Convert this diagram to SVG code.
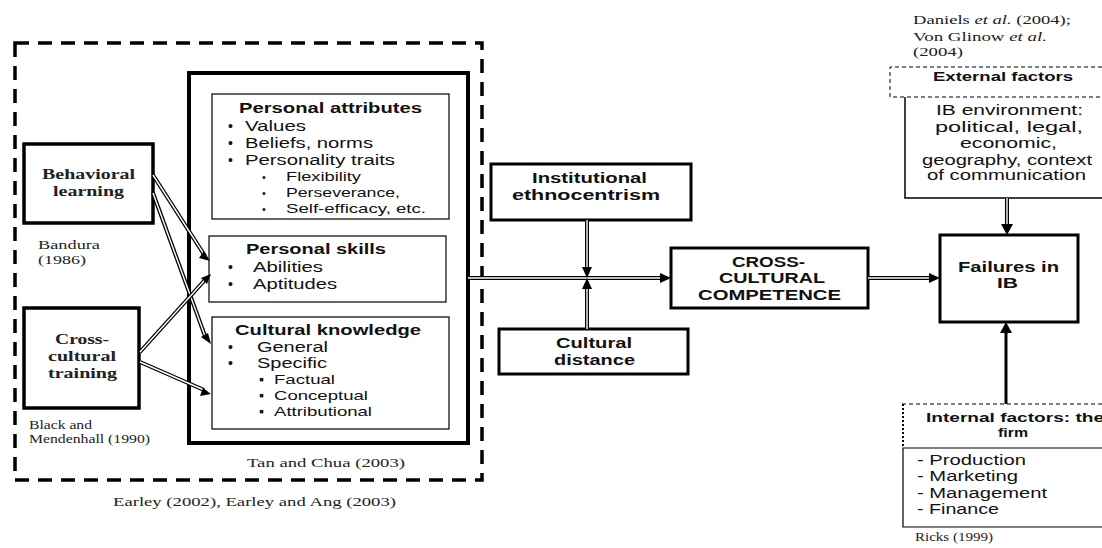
<svg xmlns="http://www.w3.org/2000/svg" width="1102" height="548" viewBox="0 0 1102 548">
<defs>
<style>
.sans{font-family:"Liberation Sans",Arial,sans-serif;fill:#111}
.serif{font-family:"Liberation Serif","Times New Roman",serif;fill:#222}
.b{font-weight:bold}
.box{fill:#fff;stroke:#000}
.dbl{stroke:#000;stroke-width:4;fill:none}
.dblw{stroke:#fff;stroke-width:1.4;fill:none}
</style>
</defs>
<rect width="1102" height="548" fill="#fff"/>

<g id="outer-dashed">
<rect x="15" y="43" width="467" height="437" fill="none" stroke="#000" stroke-width="3.5" stroke-dasharray="14,9"/>
</g>

<g id="inner-box">
<rect x="189" y="73" width="279" height="370" fill="none" stroke="#000" stroke-width="4"/>
</g>

<g id="personal-attributes">
<rect class="box" x="212" y="94" width="237" height="125" stroke-width="1.2"/>
<text class="sans b" x="239" y="113" font-size="14" textLength="183" lengthAdjust="spacingAndGlyphs">Personal attributes</text>
<g class="sans" font-size="14">
<text x="228" y="131">•</text><text x="245" y="131" textLength="61" lengthAdjust="spacingAndGlyphs">Values</text>
<text x="228" y="148">•</text><text x="245" y="148" textLength="128" lengthAdjust="spacingAndGlyphs">Beliefs, norms</text>
<text x="228" y="165">•</text><text x="245" y="165" textLength="150" lengthAdjust="spacingAndGlyphs">Personality traits</text>
</g>
<g class="sans" font-size="13">
<text x="262" y="181" font-size="11">•</text><text x="286" y="181" textLength="75" lengthAdjust="spacingAndGlyphs">Flexibility</text>
<text x="262" y="197" font-size="11">•</text><text x="286" y="197" textLength="114" lengthAdjust="spacingAndGlyphs">Perseverance,</text>
<text x="262" y="213" font-size="11">•</text><text x="286" y="213" textLength="140" lengthAdjust="spacingAndGlyphs">Self-efficacy, etc.</text>
</g>
</g>

<g id="personal-skills">
<rect class="box" x="209" y="236" width="237" height="66" stroke-width="1.2"/>
<text class="sans b" x="246" y="254" font-size="14" textLength="140" lengthAdjust="spacingAndGlyphs">Personal skills</text>
<g class="sans" font-size="14">
<text x="228" y="272">•</text><text x="253" y="272" textLength="70" lengthAdjust="spacingAndGlyphs">Abilities</text>
<text x="228" y="289">•</text><text x="253" y="289" textLength="84" lengthAdjust="spacingAndGlyphs">Aptitudes</text>
</g>
</g>

<g id="cultural-knowledge">
<rect class="box" x="212" y="317" width="237" height="112" stroke-width="1.2"/>
<text class="sans b" x="235" y="335" font-size="14" textLength="186" lengthAdjust="spacingAndGlyphs">Cultural knowledge</text>
<g class="sans" font-size="14">
<text x="228" y="352">•</text><text x="257" y="352" textLength="71" lengthAdjust="spacingAndGlyphs">General</text>
<text x="228" y="368">•</text><text x="257" y="368" textLength="70" lengthAdjust="spacingAndGlyphs">Specific</text>
</g>
<g class="sans" font-size="13">
<text x="259" y="384" font-size="14">▪</text><text x="274" y="384" textLength="61" lengthAdjust="spacingAndGlyphs">Factual</text>
<text x="259" y="400" font-size="14">▪</text><text x="274" y="400" textLength="94" lengthAdjust="spacingAndGlyphs">Conceptual</text>
<text x="259" y="416" font-size="14">▪</text><text x="274" y="416" textLength="98" lengthAdjust="spacingAndGlyphs">Attributional</text>
</g>
</g>

<g id="behavioral-learning">
<rect class="box" x="24" y="144" width="129" height="79" stroke-width="3.5"/>
<text class="serif b" x="42" y="179" font-size="14" textLength="93" lengthAdjust="spacingAndGlyphs">Behavioral</text>
<text class="serif b" x="53" y="196" font-size="14" textLength="71" lengthAdjust="spacingAndGlyphs">learning</text>
</g>
<text class="serif" x="38" y="249" font-size="13" textLength="62" lengthAdjust="spacingAndGlyphs">Bandura</text>
<text class="serif" x="38" y="264" font-size="13" textLength="48" lengthAdjust="spacingAndGlyphs">(1986)</text>

<g id="cross-cultural-training">
<rect class="box" x="24" y="308" width="115" height="100" stroke-width="3.5"/>
<text class="serif b" x="55" y="344" font-size="14" textLength="54" lengthAdjust="spacingAndGlyphs">Cross-</text>
<text class="serif b" x="48" y="361" font-size="14" textLength="68" lengthAdjust="spacingAndGlyphs">cultural</text>
<text class="serif b" x="48" y="378" font-size="14" textLength="69" lengthAdjust="spacingAndGlyphs">training</text>
</g>
<text class="serif" x="29" y="429" font-size="12" textLength="63" lengthAdjust="spacingAndGlyphs">Black and</text>
<text class="serif" x="29" y="443" font-size="12" textLength="121" lengthAdjust="spacingAndGlyphs">Mendenhall (1990)</text>

<text class="serif" x="247" y="467" font-size="13" textLength="158" lengthAdjust="spacingAndGlyphs">Tan and Chua (2003)</text>
<text class="serif" x="113" y="506" font-size="13" textLength="283" lengthAdjust="spacingAndGlyphs">Earley (2002), Earley and Ang (2003)</text>

<g id="institutional-ethnocentrism">
<rect class="box" x="491" y="164" width="200" height="56" stroke-width="3"/>
<text class="sans b" x="532" y="183" font-size="14" textLength="115" lengthAdjust="spacingAndGlyphs">Institutional</text>
<text class="sans b" x="512" y="200" font-size="14" textLength="148" lengthAdjust="spacingAndGlyphs">ethnocentrism</text>
</g>

<g id="cultural-distance">
<rect class="box" x="499" y="329" width="189" height="45" stroke-width="3"/>
<text class="sans b" x="556" y="348" font-size="14" textLength="76" lengthAdjust="spacingAndGlyphs">Cultural</text>
<text class="sans b" x="554" y="365" font-size="14" textLength="81" lengthAdjust="spacingAndGlyphs">distance</text>
</g>

<g id="cross-cultural-competence">
<rect class="box" x="671" y="248" width="197" height="60" stroke-width="3"/>
<text class="sans b" x="732" y="267" font-size="14.5" textLength="73" lengthAdjust="spacingAndGlyphs">CROSS-</text>
<text class="sans b" x="719" y="283" font-size="14.5" textLength="106" lengthAdjust="spacingAndGlyphs">CULTURAL</text>
<text class="sans b" x="698" y="300" font-size="14.5" textLength="143" lengthAdjust="spacingAndGlyphs">COMPETENCE</text>
</g>

<g id="failures-in-ib">
<rect class="box" x="940" y="235" width="138" height="87" stroke-width="3"/>
<text class="sans b" x="958" y="272" font-size="14" textLength="101" lengthAdjust="spacingAndGlyphs">Failures in</text>
<text class="sans b" x="997" y="288" font-size="14" textLength="21" lengthAdjust="spacingAndGlyphs">IB</text>
</g>

<text class="serif" x="913" y="24" font-size="12" textLength="158" lengthAdjust="spacingAndGlyphs">Daniels <tspan font-style="italic">et al.</tspan> (2004);</text>
<text class="serif" x="913" y="41" font-size="12" textLength="134" lengthAdjust="spacingAndGlyphs">Von Glinow <tspan font-style="italic">et al.</tspan></text>
<text class="serif" x="913" y="56" font-size="12" textLength="50" lengthAdjust="spacingAndGlyphs">(2004)</text>

<g id="external-factors">
<path d="M1102,67 L890,67 L890,97 L1102,97" fill="#fff" stroke="#000" stroke-width="1" stroke-dasharray="4,3"/>
<text class="sans b" x="933" y="81" font-size="13" textLength="140" lengthAdjust="spacingAndGlyphs">External factors</text>
<path d="M1102,198 L905,198 L905,97" fill="none" stroke="#000" stroke-width="1.5"/>
<g class="sans" font-size="14">
<text x="936" y="115" textLength="147" lengthAdjust="spacingAndGlyphs">IB environment:</text>
<text x="935" y="132" textLength="148" lengthAdjust="spacingAndGlyphs">political, legal,</text>
<text x="960" y="148" textLength="97" lengthAdjust="spacingAndGlyphs">economic,</text>
<text x="922" y="165" textLength="170" lengthAdjust="spacingAndGlyphs">geography, context</text>
<text x="927" y="180" textLength="159" lengthAdjust="spacingAndGlyphs">of communication</text>
</g>
</g>

<g id="internal-factors">
<path d="M1102,404 L902,404" fill="none" stroke="#000" stroke-width="1" stroke-dasharray="4,3"/>
<path d="M903,404 L903,448" fill="none" stroke="#000" stroke-width="2" stroke-dasharray="2,2"/>
<text class="sans b" x="926" y="422" font-size="13" textLength="178" lengthAdjust="spacingAndGlyphs">Internal factors: the</text>
<text class="sans b" x="998" y="437" font-size="13" textLength="30" lengthAdjust="spacingAndGlyphs">firm</text>
<path d="M1102,448 L903,448 L903,527 L1102,527" fill="none" stroke="#000" stroke-width="1.2"/>
<g class="sans" font-size="14">
<text x="917" y="465" textLength="109" lengthAdjust="spacingAndGlyphs">- Production</text>
<text x="917" y="481" textLength="101" lengthAdjust="spacingAndGlyphs">- Marketing</text>
<text x="917" y="498" textLength="130" lengthAdjust="spacingAndGlyphs">- Management</text>
<text x="917" y="514" textLength="82" lengthAdjust="spacingAndGlyphs">- Finance</text>
</g>
</g>
<text class="serif" x="915" y="541" font-size="12" textLength="78" lengthAdjust="spacingAndGlyphs">Ricks (1999)</text>

<g id="connectors">
<g>
<line class="dbl" x1="153" y1="175" x2="205" y2="256"/>
<line class="dblw" x1="153" y1="175" x2="205" y2="256"/>
<line class="dbl" x1="153" y1="193" x2="205" y2="336"/>
<line class="dblw" x1="153" y1="193" x2="205" y2="336"/>
<line class="dbl" x1="140" y1="352" x2="204" y2="281"/>
<line class="dblw" x1="140" y1="352" x2="204" y2="281"/>
<line class="dbl" x1="140" y1="362" x2="204" y2="390"/>
<line class="dblw" x1="140" y1="362" x2="204" y2="390"/>
<path d="M210,261 l-11,-3 l5,-7 z M211,344 l-10,-7 l7,-4 z M211,274 l-4,10 l-6,-6 z M211,394 l-11,2 l3,-8 z" fill="#000"/>
</g>
<line class="dbl" x1="468" y1="278" x2="662" y2="278"/>
<line class="dblw" x1="468" y1="278" x2="662" y2="278"/>
<path d="M671,278 l-11,-5 l0,10 z" fill="#000"/>
<line class="dbl" x1="587" y1="220" x2="587" y2="270"/>
<line class="dblw" x1="587" y1="220" x2="587" y2="270"/>
<path d="M587,278 l-5,-11 l10,0 z" fill="#000"/>
<line class="dbl" x1="587" y1="329" x2="587" y2="286"/>
<line class="dblw" x1="587" y1="329" x2="587" y2="286"/>
<path d="M587,278 l-5,11 l10,0 z" fill="#000"/>
<line class="dbl" x1="868" y1="278" x2="931" y2="278"/>
<line class="dblw" x1="868" y1="278" x2="931" y2="278"/>
<path d="M940,278 l-11,-5 l0,10 z" fill="#000"/>
<line class="dbl" x1="1007" y1="198" x2="1007" y2="226"/>
<line class="dblw" x1="1007" y1="198" x2="1007" y2="226"/>
<path d="M1007,235 l-6,-11 l12,0 z" fill="#000"/>
<line x1="1006" y1="404" x2="1006" y2="330" stroke="#000" stroke-width="3"/>
<path d="M1006,322 l-6,11 l12,0 z" fill="#000"/>
</g>
</svg>
